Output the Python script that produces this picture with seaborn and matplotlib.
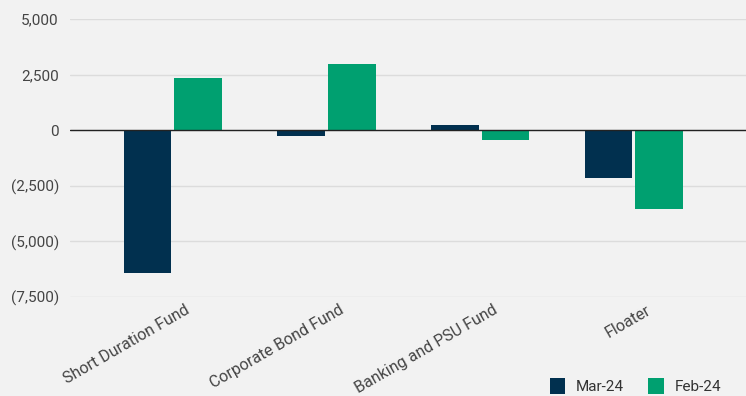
import matplotlib
matplotlib.use("Agg")
import matplotlib.pyplot as plt
import matplotlib.ticker as mticker
import matplotlib.transforms as mtransforms
import seaborn as sns
import pandas as pd

categories = ["Short Duration Fund", "Corporate Bond Fund", "Banking and PSU Fund", "Floater"]
mar24 = [-6400, -270, 220, -2130]
feb24 = [2350, 2970, -450, -3560]
series_names = ["Mar-24", "Feb-24"]
colors = ["#01304f", "#00a070"]
yticks = [-7500, -5000, -2500, 0, 2500, 5000]

df = pd.DataFrame({
    "category": categories * 2,
    "value": mar24 + feb24,
    "series": [series_names[0]] * 4 + [series_names[1]] * 4,
})

sns.set_theme(style="white")
plt.rcParams["font.family"] = ["Roboto", "DejaVu Sans"]

bg = "#f2f2f2"
fig = plt.figure(figsize=(7.46, 3.96), dpi=100, facecolor=bg)
ax = fig.add_axes([70 / 746, 1 - 297 / 396, 1 - 70 / 746, (297 - 19) / 396])
ax.set_facecolor(bg)

sns.barplot(data=df, x="category", y="value", hue="series", palette=colors,
            width=0.66, gap=0.06, ax=ax, legend=True, saturation=1, errorbar=None,
            linewidth=0, edgecolor="none")

ax.set_ylim(-7500, 5000)
ax.set_xlim(-0.67, 3.73)
ax.set_yticks(yticks)

def fmt(v, pos):
    if v < 0:
        return "({:,.0f})".format(-v)
    return "{:,.0f}".format(v)

ax.yaxis.set_major_formatter(mticker.FuncFormatter(fmt))
ax.grid(axis="y", color="#dcdcdc", linewidth=1)
ax.set_axisbelow(True)
ax.axhline(0, color="#222222", linewidth=1.0, zorder=3)
for s in ax.spines.values():
    s.set_visible(False)
ax.set_xlabel("")
ax.set_ylabel("")
ax.tick_params(axis="y", length=0, labelsize=11, labelcolor="#444444", pad=8)
ax.tick_params(axis="x", length=0, labelsize=11.5, labelcolor="#444444", pad=4)
offset = mtransforms.ScaledTranslation(12 / 100, 0, fig.dpi_scale_trans)
for lab in ax.get_xticklabels():
    lab.set_rotation(30)
    lab.set_ha("right")
    lab.set_rotation_mode("anchor")
    lab.set_transform(lab.get_transform() + offset)

handles, labels = ax.get_legend_handles_labels()
ax.legend(handles, labels, loc="lower right", ncol=2, frameon=False, fontsize=11,
          handlelength=1.0, handleheight=1.2, columnspacing=1.6, handletextpad=0.7,
          labelcolor="#333333")
leg = ax.get_legend()
leg.set_bbox_to_anchor((0.985, -0.03), transform=fig.transFigure)

fig.savefig("out.png", dpi=100, facecolor=bg)
